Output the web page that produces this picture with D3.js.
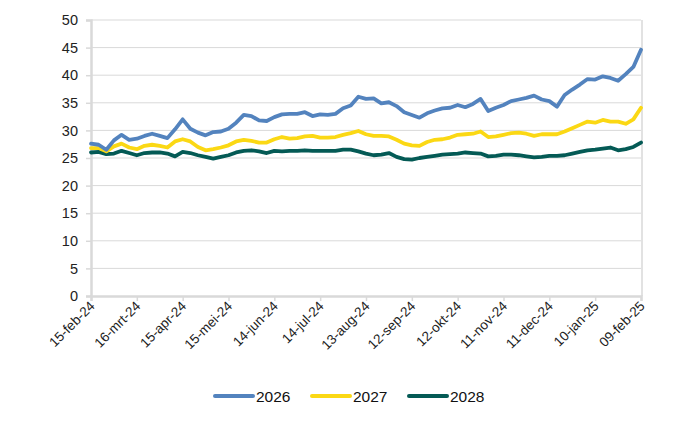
<!DOCTYPE html>
<html><head><meta charset="utf-8">
<script src="https://cdn.jsdelivr.net/npm/d3@7"></script>
<style>body{margin:0;background:#fff;} text{font-family:"Liberation Sans",Arial,sans-serif;}</style>
</head><body><svg id="c" width="700" height="430"></svg>
<script>
const dates = ["2024-02-15","2024-02-20","2024-02-25","2024-03-01","2024-03-06","2024-03-11","2024-03-16","2024-03-21","2024-03-26","2024-03-31",
"2024-04-05","2024-04-10","2024-04-15","2024-04-20","2024-04-25","2024-04-30","2024-05-05","2024-05-10","2024-05-15","2024-05-20",
"2024-05-25","2024-05-30","2024-06-04","2024-06-09","2024-06-14","2024-06-19","2024-06-24","2024-06-29","2024-07-04","2024-07-09",
"2024-07-14","2024-07-19","2024-07-24","2024-07-29","2024-08-03","2024-08-08","2024-08-13","2024-08-18","2024-08-23","2024-08-28",
"2024-09-02","2024-09-07","2024-09-12","2024-09-17","2024-09-22","2024-09-27","2024-10-02","2024-10-07","2024-10-12","2024-10-17",
"2024-10-22","2024-10-27","2024-11-01","2024-11-06","2024-11-11","2024-11-16","2024-11-21","2024-11-26","2024-12-01","2024-12-06",
"2024-12-11","2024-12-16","2024-12-21","2024-12-26","2024-12-31","2025-01-05","2025-01-10","2025-01-15","2025-01-20","2025-01-25",
"2025-01-30","2025-02-04","2025-02-09"];
const s2026 = [27.6,27.4,26.5,28.2,29.2,28.3,28.5,29.0,29.4,29.0,
28.6,30.2,32.0,30.3,29.6,29.1,29.7,29.8,30.3,31.4,
32.8,32.6,31.8,31.7,32.4,32.9,33.0,33.0,33.3,32.6,
32.9,32.8,33.0,34.0,34.5,36.1,35.7,35.8,34.9,35.1,
34.4,33.3,32.8,32.3,33.1,33.6,34.0,34.1,34.6,34.2,
34.8,35.7,33.5,34.1,34.6,35.3,35.6,35.9,36.3,35.6,
35.3,34.3,36.4,37.4,38.3,39.3,39.2,39.8,39.5,39.0,
40.2,41.5,44.6];
const s2027 = [26.8,26.8,26.2,27.1,27.6,26.9,26.6,27.2,27.4,27.2,
26.9,28.0,28.4,28.0,27.0,26.4,26.6,26.9,27.3,28.0,
28.3,28.1,27.8,27.8,28.4,28.8,28.5,28.6,28.9,29.0,
28.7,28.7,28.8,29.2,29.5,29.9,29.3,29.0,29.0,28.9,
28.3,27.6,27.3,27.2,27.9,28.3,28.4,28.7,29.2,29.3,
29.4,29.8,28.8,28.9,29.2,29.5,29.6,29.4,29.0,29.3,
29.3,29.3,29.8,30.4,31.0,31.6,31.4,31.9,31.6,31.6,
31.2,32.0,34.1];
const s2028 = [26.0,26.1,25.7,25.8,26.3,25.9,25.5,25.9,26.0,26.0,
25.8,25.3,26.1,25.9,25.5,25.2,24.9,25.2,25.5,26.0,
26.3,26.4,26.2,25.9,26.3,26.2,26.3,26.3,26.4,26.3,
26.3,26.3,26.3,26.5,26.5,26.2,25.8,25.5,25.6,25.9,
25.2,24.8,24.7,25.0,25.2,25.4,25.6,25.7,25.8,26.0,
25.9,25.8,25.3,25.4,25.6,25.6,25.5,25.3,25.1,25.2,
25.4,25.4,25.5,25.8,26.1,26.4,26.5,26.7,26.9,26.4,
26.6,27.0,27.8];
const seriesNames = ["2026","2027","2028"];
const seriesColors = ["#5383BE","#FBD814","#045A55"];
const xTickDates = ["2024-02-15","2024-03-16","2024-04-15","2024-05-15","2024-06-14","2024-07-14","2024-08-13","2024-09-12","2024-10-12","2024-11-11","2024-12-11","2025-01-10","2025-02-09"];
const xTickLabels = ["15-feb-24","16-mrt-24","15-apr-24","15-mei-24","14-jun-24","14-jul-24","13-aug-24","12-sep-24","12-okt-24","11-nov-24","11-dec-24","10-jan-25","09-feb-25"];
const yTicks = [0,5,10,15,20,25,30,35,40,45,50];

const parse = d3.utcParse("%Y-%m-%d");
const svg = d3.select("#c");
const L = 91, R = 641, T = 20, B = 296;
const x = d3.scaleUtc().domain([parse(dates[0]), parse(dates[dates.length-1])]).range([L, R]);
const y = d3.scaleLinear().domain([0, 50]).range([B, T]);
const grid = "#d9d9d9";

svg.append("g").selectAll("line").data(yTicks.filter(v => v > 0)).join("line")
  .attr("x1", L).attr("x2", R).attr("y1", d => y(d)).attr("y2", d => y(d))
  .attr("stroke", grid).attr("stroke-width", 1);
svg.append("line").attr("x1", R + 1).attr("x2", R + 1).attr("y1", T).attr("y2", B)
  .attr("stroke", grid).attr("stroke-width", 1.5);

const yAxis = svg.append("g").attr("transform", `translate(${L},0)`)
  .call(d3.axisLeft(y).tickValues(yTicks).tickSize(5).tickPadding(8));
yAxis.select(".domain").attr("stroke", grid).attr("stroke-width", 2.5);
yAxis.selectAll(".tick line").attr("stroke", grid).attr("stroke-width", 1.5);
yAxis.selectAll("text").attr("font-size", 14.5).attr("fill", "#222")
  .attr("font-family", "'Liberation Sans', Arial, sans-serif");

const xAxis = svg.append("g").attr("transform", `translate(0,${B})`)
  .call(d3.axisBottom(x).tickValues(xTickDates.map(parse)).tickSize(5)
    .tickFormat((d, i) => xTickLabels[i]));
xAxis.select(".domain").attr("stroke", grid).attr("stroke-width", 2.5);
xAxis.selectAll(".tick line").attr("stroke", grid).attr("stroke-width", 1.5);
xAxis.selectAll("text").attr("font-size", 13.5).attr("fill", "#222")
  .attr("font-family", "'Liberation Sans', Arial, sans-serif")
  .attr("text-anchor", "end").attr("dy", 0).attr("dx", 0)
  .attr("transform", "translate(4,11) rotate(-45)")
  .attr("y", 0).attr("x", 0);

const series = [s2026, s2027, s2028];
const line = d3.line().x((d, i) => x(parse(dates[i]))).y(d => y(d));
[2, 1, 0].forEach(k => {
  svg.append("path").datum(series[k]).attr("d", line)
    .attr("fill", "none").attr("stroke", seriesColors[k])
    .attr("stroke-width", 3.8).attr("stroke-linejoin", "round").attr("stroke-linecap", "round");
});

const lx = [215, 312, 409];
const lg = svg.append("g");
seriesNames.forEach((n, k) => {
  lg.append("line").attr("x1", lx[k]).attr("x2", lx[k] + 38).attr("y1", 396).attr("y2", 396)
    .attr("stroke", seriesColors[k]).attr("stroke-width", 4).attr("stroke-linecap", "round");
  lg.append("text").attr("x", lx[k] + 41).attr("y", 401.5).text(n)
    .attr("font-size", 15.5).attr("fill", "#111");
});
</script></body></html>
